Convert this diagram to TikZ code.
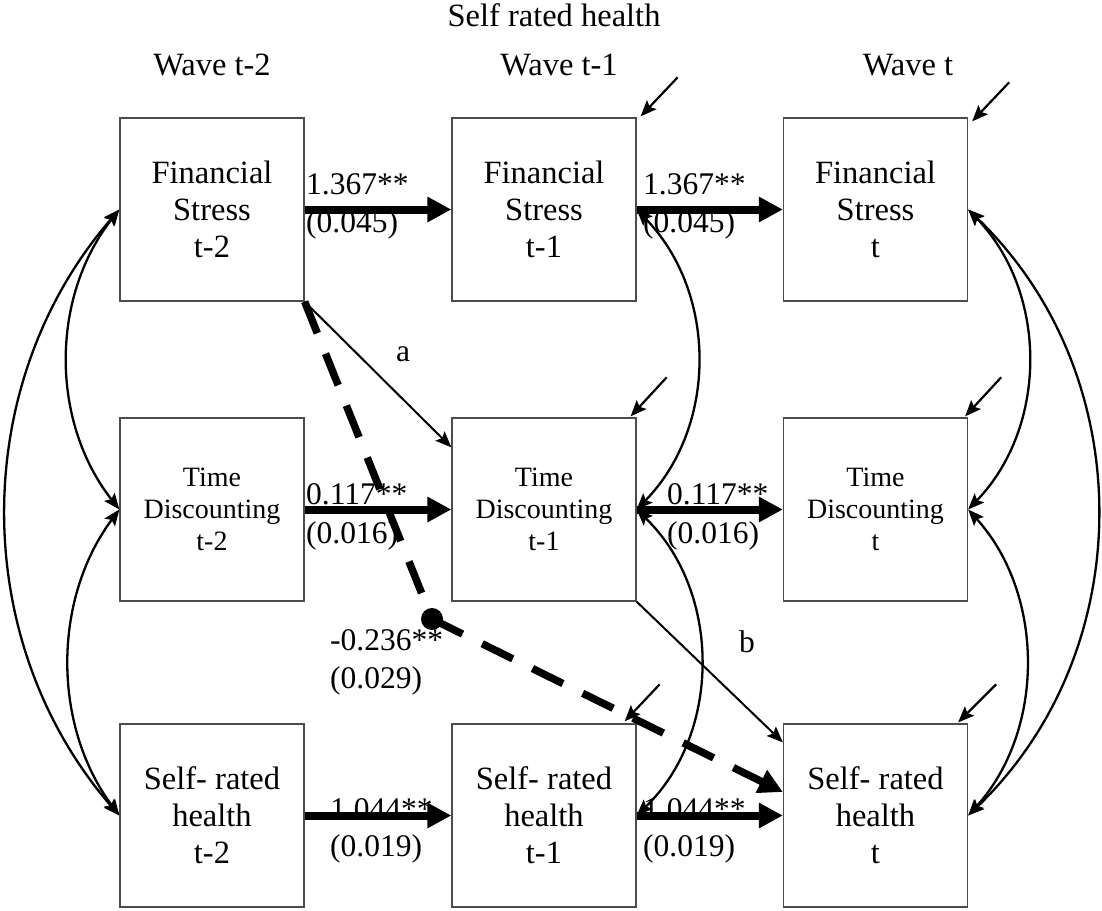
\documentclass[tikz,border=0pt]{standalone}
\usepackage{fontspec}
\setmainfont{Liberation Serif}
\usetikzlibrary{arrows.meta,calc}

\begin{document}
\begin{tikzpicture}[x=1pt,y=-1pt,
  varbox/.style={draw=black!70, line width=1.3pt, minimum width=184pt,
    minimum height=183pt, inner sep=0pt, align=center,
    font=\fontsize{32.5}{37}\selectfont},
  smallbox/.style={varbox, font=\fontsize{28}{32}\selectfont},
  coef/.style={anchor=base west, inner sep=0pt, font=\fontsize{31.5}{37}\selectfont},
  heading/.style={anchor=base, inner sep=0pt, font=\fontsize{32.5}{37}\selectfont},
  pathlabel/.style={inner sep=0pt, font=\fontsize{31.5}{37}\selectfont},
  smalltip/.tip={Stealth[length=16pt,width=13pt,inset=3pt]},
  bigtip/.tip={Triangle[length=24pt,width=24pt]},
  stability/.style={line width=8pt, -bigtip},
  covpath/.style={line width=2.3pt, smalltip-smalltip},
  thinpath/.style={line width=2pt, -smalltip},
  residual/.style={line width=2.2pt, -smalltip},
  dashline/.style={line width=7.5pt, dash pattern=on 34pt off 22pt},
]
\useasboundingbox (0,0) rectangle (1102,910);

% titles
\node[heading] (title) at (554,26) {Self rated health};
\node[heading] (w1) at (212,75) {Wave t-2};
\node[heading] (w2) at (559,75) {Wave t-1};
\node[heading] (w3) at (908,75) {Wave t};

% variables
\node[varbox]   (b11) at (212,209.5) {Financial\\Stress\\t-2};
\node[varbox]   (b12) at (544,209.5) {Financial\\Stress\\t-1};
\node[varbox]   (b13) at (875.5,209.5) {Financial\\Stress\\t};
\node[smallbox] (b21) at (212,509.5) {Time\\Discounting\\t-2};
\node[smallbox] (b22) at (544,509.5) {Time\\Discounting\\t-1};
\node[smallbox] (b23) at (875.5,509.5) {Time\\Discounting\\t};
\node[varbox]   (b31) at (212,815.5) {Self- rated\\health\\t-2};
\node[varbox]   (b32) at (544,815.5) {Self- rated\\health\\t-1};
\node[varbox]   (b33) at (875.5,815.5) {Self- rated\\health\\t};

% coefficients
\node[coef] (c1a) at (306,194) {1.367**};
\node[coef] (c1b) at (306,232) {(0.045)};
\node[coef] (c2a) at (643,194) {1.367**};
\node[coef] (c2b) at (643,232) {(0.045)};
\node[coef] (c3a) at (306,504) {0.117**};
\node[coef] (c3b) at (306,543) {(0.016)};
\node[coef] (c4a) at (667,504) {0.117**};
\node[coef] (c4b) at (667,543) {(0.016)};
\node[coef] (c5a) at (330,819) {1.044**};
\node[coef] (c5b) at (330,856) {(0.019)};
\node[coef] (c6a) at (643,819) {1.044**};
\node[coef] (c6b) at (643,856) {(0.019)};
\node[coef] (c7a) at (330,650) {-0.236**};
\node[coef] (c7b) at (330,688) {(0.029)};
\node[pathlabel] (la) at (403,354) {a};
\node[pathlabel] (lb) at (747,642) {b};

% stability paths
\draw[stability] (b11.east) -- (b12.west);
\draw[stability] (b12.east) -- (b13.west);
\draw[stability] (b21.east) -- (b22.west);
\draw[stability] (b22.east) -- (b23.west);
\draw[stability] (b31.east) -- (b32.west);
\draw[stability] (b32.east) -- (b33.west);

% within-wave covariances
\draw[covpath] (b11.west) .. controls +(-69,88) and +(-69,-88) .. (b21.west);
\draw[covpath] (b21.west) .. controls +(-67,90) and +(-67,-90) .. (b31.west);
\draw[covpath] (b11.west) .. controls +(-151,174) and +(-151,-174) .. (b31.west);
\draw[covpath] (b12.east) .. controls +(81,83) and +(81,-83) .. (b22.east);
\draw[covpath] (b22.east) .. controls +(85,82) and +(85,-82) .. (b32.east);
\draw[covpath] (b13.east) .. controls +(80,83) and +(80,-83) .. (b23.east);
\draw[covpath] (b23.east) .. controls +(77,85) and +(77,-85) .. (b33.east);
\draw[covpath] (b13.east) .. controls +(172,165) and +(172,-165) .. (b33.east);

% mediation paths a and b
\coordinate (ain) at ($(b22.north west)+(0,30)$);
\coordinate (bin) at ($(b33.north west)+(0,19)$);
\draw[thinpath] (b11.south east) -- (ain);
\draw[thinpath] (b22.south east) -- (bin);

% residual terms
\coordinate (e12) at ($(b12.north east)+(41,-40)$);
\coordinate (e13) at ($(b13.north east)+(41,-35)$);
\coordinate (e22) at ($(b22.north east)+(30,-40)$);
\coordinate (e23) at ($(b23.north east)+(33,-40)$);
\coordinate (e32) at ($(b32.north east)+(23,-39)$);
\coordinate (e33) at ($(b33.north east)+(28,-39)$);
\draw[residual] (e12) -- ($(b12.north east)+(4,-1)$);
\draw[residual] (e13) -- ($(b13.north east)+(4,4)$);
\draw[residual] (e22) -- ($(b22.north east)+(-6,-1)$);
\draw[residual] (e23) -- ($(b23.north east)+(-3,-1)$);
\draw[residual] (e32) -- ($(b32.north east)+(-12,-2)$);
\draw[residual] (e33) -- ($(b33.north east)+(-10,-1)$);

% cross-lagged effect on health
\node[circle, fill, inner sep=0pt, minimum size=22pt] (junction) at (432,619) {};
\coordinate (din) at ($(b33.west)+(0,-23.5)$);
\draw[dashline] (b11.south east) -- (junction.center);
\draw[dashline, -bigtip] (junction.center) -- (din);
\end{tikzpicture}
\end{document}
